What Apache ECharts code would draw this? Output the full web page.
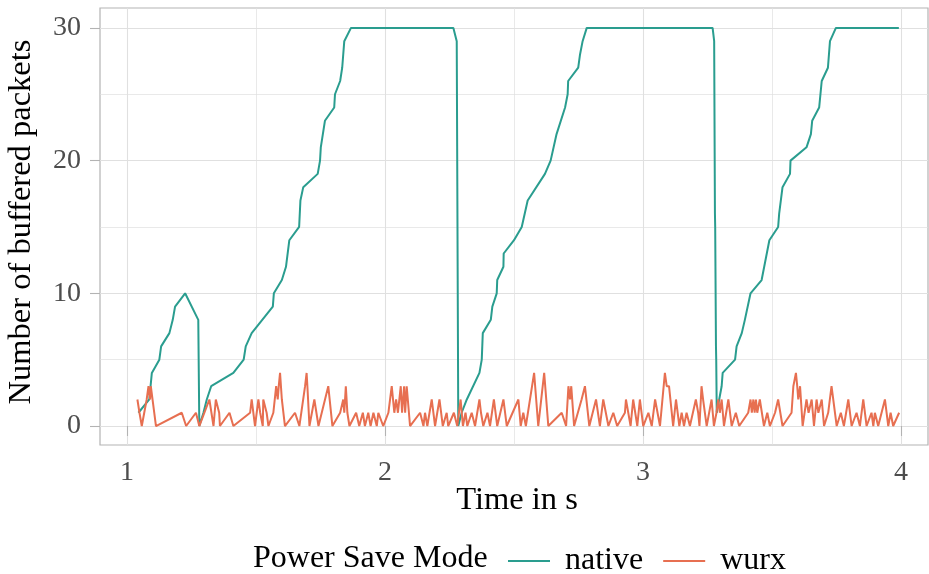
<!DOCTYPE html>
<html>
<head>
<meta charset="utf-8">
<script src="https://cdn.jsdelivr.net/npm/echarts@6/dist/echarts.min.js"></script>
<style>
html,body{margin:0;padding:0;background:#fff;}
#chart{width:929px;height:574px;}
</style>
</head>
<body>
<div id="chart"></div>
<script>
// ---- data ----
var nativeTime = [1.044,1.086,1.096,1.125,1.132,1.164,1.177,1.186,1.225,1.276,1.280,1.296,1.309,1.326,1.412,1.452,1.460,1.483,1.565,1.569,1.600,1.616,1.629,1.667,1.672,1.683,1.739,1.748,1.751,1.767,1.803,1.806,1.826,1.834,1.842,1.868,
  2.265,2.278,2.284,2.297,2.317,2.366,2.375,2.379,2.410,2.416,2.433,2.435,2.459,2.460,2.500,2.530,2.553,2.620,2.642,2.665,2.698,2.708,2.710,2.749,2.756,2.766,2.782,
  3.270,3.276,3.279,3.280,3.283,3.284,3.286,3.305,3.309,3.357,3.363,3.383,3.395,3.417,3.460,3.490,3.524,3.528,3.541,3.570,3.572,3.634,3.651,3.656,3.683,3.693,3.717,3.725,3.748,3.992];
var nativeCount = [1,2,4,5,6,7,8,9,10,8,0,1,2,3,4,5,6,7,9,10,11,12,14,15,17,18,19,20,21,23,24,25,26,27,29,30,
  30,29,0,1,2,4,5,7,8,9,10,11,12,13,14,15,17,19,20,22,24,25,26,27,28,29,30,
  30,29,16,15,6,5,1,3,4,5,6,7,8,10,11,14,15,16,18,19,20,21,22,23,24,26,27,29,30,30];

var wurxTime = [1.040,1.048,1.057,1.076,1.083,1.089,1.092,1.098,1.112,1.212,1.229,1.267,1.280,1.319,1.335,1.344,1.357,1.360,1.397,1.412,
  1.477,1.483,1.496,1.509,1.516,1.526,1.528,1.541,1.548,1.567,1.578,1.584,1.588,1.593,1.600,1.612,1.651,1.668,1.690,1.696,1.699,1.707,
  1.726,1.742,1.780,1.796,1.826,1.838,1.842,1.848,1.854,1.862,1.888,1.900,1.914,1.922,1.935,1.944,1.955,1.968,1.974,1.993,
  2.013,2.026,2.036,2.043,2.050,2.061,2.066,2.074,2.078,2.084,2.097,2.136,2.149,2.155,2.164,2.181,2.194,2.211,2.224,2.239,2.245,2.267,2.280,
  2.293,2.302,2.312,2.319,2.336,2.349,2.366,2.372,2.381,2.397,2.407,2.422,2.435,2.459,2.472,2.517,2.526,2.536,2.546,2.578,2.594,2.617,2.633,
  2.685,2.702,2.711,2.717,2.722,2.733,2.762,2.775,2.792,2.818,2.833,2.846,2.866,2.885,2.900,2.930,2.934,2.952,2.962,2.978,2.988,3.001,
  3.021,3.034,3.047,3.066,3.085,3.092,3.101,3.117,3.128,3.141,3.150,3.159,3.169,3.182,3.205,3.214,3.219,3.227,3.233,3.247,3.266,3.275,
  3.285,3.292,3.298,3.305,3.314,3.331,3.344,3.360,3.373,3.408,3.417,3.422,3.428,3.433,3.438,3.443,3.453,3.469,3.482,3.492,3.512,3.524,3.541,
  3.576,3.583,3.593,3.598,3.602,3.609,3.619,3.634,3.642,3.654,3.663,3.673,3.680,3.693,3.702,3.718,3.731,3.751,3.767,3.779,3.796,3.809,
  3.828,3.841,3.854,3.867,3.886,3.893,3.899,3.912,3.938,3.951,3.960,3.970,3.993];
var wurxCount = [2,1,0,2,3,2,3,3,0,1,0,1,0,2,0,2,1,0,1,0,
  1,2,0,2,1,0,2,1,0,1,3,2,3,4,2,0,1,0,3,4,3,0,
  2,0,3,0,1,2,1,3,1,0,1,0,1,0,1,0,1,0,1,0,
  1,3,1,2,1,3,1,3,1,3,0,1,0,1,0,2,0,2,0,1,0,1,0,
  2,0,1,0,1,0,2,1,0,1,0,2,0,2,0,2,0,1,0,4,0,4,0,
  1,0,3,2,3,0,2,3,0,2,0,2,0,1,0,1,2,0,2,0,2,0,
  1,0,2,0,4,3,3,0,2,0,1,0,1,0,2,1,0,3,2,0,2,0,
  1,2,1,2,0,2,0,1,0,1,2,1,2,1,2,1,2,0,1,0,1,2,0,
  1,3,4,3,2,3,0,2,1,2,0,2,1,2,0,1,3,0,1,0,2,0,
  1,0,2,0,1,0,1,0,2,0,1,0,1];

var xTicks = [1, 2, 3, 4];
var yTicks = [0, 10, 20, 30];
var xMinorGrid = [1.5, 2.5, 3.5];
var yMinorGrid = [5, 15, 25];
var seriesNames = ['native', 'wurx'];

// ---- build ----
function pairs(xs, ys) { return xs.map(function (x, i) { return [x, ys[i]]; }); }
var FONT = '"Liberation Serif", "Times New Roman", serif';
var gridLines = [];
xTicks.forEach(function (v) { gridLines.push({ xAxis: v, lineStyle: { width: 1.1 } }); });
xMinorGrid.forEach(function (v) { gridLines.push({ xAxis: v, lineStyle: { width: 0.7 } }); });
yTicks.forEach(function (v) { gridLines.push({ yAxis: v, lineStyle: { width: 1.1 } }); });
yMinorGrid.forEach(function (v) { gridLines.push({ yAxis: v, lineStyle: { width: 0.7 } }); });

var chart = echarts.init(document.getElementById('chart'), null, { renderer: 'canvas' });
chart.setOption({
  backgroundColor: '#ffffff',
  animation: false,
  grid: { left: 100, top: 8, width: 828, height: 437, show: true, borderColor: '#b3b3b3', borderWidth: 1.2, backgroundColor: 'transparent', containLabel: false },
  xAxis: {
    type: 'value', min: 0.895, max: 4.105,
    axisLine: { show: false },
    axisTick: { show: true, length: 10, lineStyle: { color: '#b3b3b3', width: 1.1 }, customValues: xTicks },
    axisLabel: { show: true, customValues: xTicks, color: '#4d4d4d', fontFamily: FONT, fontSize: 28, margin: 14 },
    splitLine: { show: false }
  },
  yAxis: {
    type: 'value', min: -1.43, max: 31.5,
    axisLine: { show: false },
    axisTick: { show: true, length: 10, lineStyle: { color: '#b3b3b3', width: 1.1 }, customValues: yTicks },
    axisLabel: { show: true, customValues: yTicks, color: '#4d4d4d', fontFamily: FONT, fontSize: 28, margin: 19 },
    splitLine: { show: false }
  },
  legend: {
    data: seriesNames,
    left: 503, top: 540,
    icon: 'rect', itemWidth: 42, itemHeight: 2.2, itemGap: 20,
    textStyle: { fontFamily: FONT, fontSize: 32, color: '#000', padding: [0, 0, 0, 10] }
  },
  graphic: [
    { type: 'text', left: 253, top: 543, style: { text: 'Power Save Mode', font: '32px ' + FONT, fill: '#000' } },
    { type: 'text', x: 517, y: 500, style: { text: 'Time in s', font: '32.5px ' + FONT, fill: '#000', align: 'center', verticalAlign: 'middle' } },
    { type: 'text', x: 21, y: 222, rotation: Math.PI / 2, style: { text: 'Number of buffered packets', font: '32.5px ' + FONT, fill: '#000', align: 'center', verticalAlign: 'middle' } }
  ],
  series: [
    {
      name: 'gridlines', type: 'line', data: [], silent: true, z: 0,
      markLine: { silent: true, z: 0, symbol: 'none', label: { show: false }, animation: false,
        lineStyle: { color: '#e0e0e0', type: 'solid', width: 1 }, data: gridLines }
    },
    {
      name: 'native', type: 'line', data: pairs(nativeTime, nativeCount),
      showSymbol: false, symbol: 'none', color: '#2a9d8f',
      lineStyle: { color: '#2a9d8f', width: 2 }, z: 3
    },
    {
      name: 'wurx', type: 'line', data: pairs(wurxTime, wurxCount),
      showSymbol: false, symbol: 'none', color: '#e76f51',
      lineStyle: { color: '#e76f51', width: 2 }, z: 4
    }
  ]
});
</script>
</body>
</html>
